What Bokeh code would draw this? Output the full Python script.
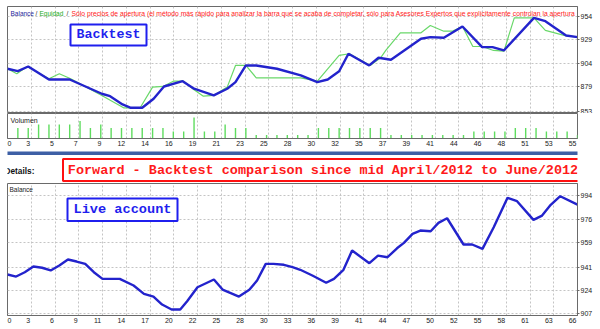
from bokeh.plotting import figure
from bokeh.layouts import column
from bokeh.models import Range1d, FixedTicker, Label, ColumnDataSource, BoxAnnotation
from bokeh.embed import file_html
from bokeh.resources import INLINE

# ---------------- data ----------------
# Backtest: balance line vertices (trade index, balance)
bt_balance_x = [0, 1, 2, 4, 6, 9.1, 9.9, 11.1, 11.9, 13, 14.1, 15.1, 16.9, 18, 19.9, 21.2, 22, 23, 24, 26,
                28.3, 29.9, 30.9, 32, 32.9, 34.9, 35.8, 37, 39.9, 40.8, 42.1, 43.9, 45.8, 46.8, 47.9,
                50.8, 51.9, 53.9, 55]
bt_balance_y = [898.3, 895.7, 900.7, 886.9, 886.9, 871.8, 869.2, 860.4, 856.9, 856.9, 866.5, 879.5, 885.1,
                877.1, 870.0, 877.1, 884.1, 901.8, 901.8, 898.3, 891.2, 884.1, 886.9, 895.7, 914.2, 901.8,
                909.9, 907.8, 930.1, 931.8, 931.1, 943.1, 921.2, 921.2, 917.7, 952.3, 948.7, 933.6, 931.8]
# Backtest: equity line vertices
bt_equity_x = [0, 0.9, 1.9, 4, 5, 6.1, 9.1, 11.2, 12.8, 14, 15, 16, 17, 18, 18.9, 19.9, 21.2, 22, 23, 24,
               28.3, 29.9, 32, 33, 35, 36, 36.5, 37.9, 39.9, 40.8, 42.1, 42.9, 43.9, 44.9, 45.8, 46.9,
               47.9, 48.9, 50.8, 51.9, 53.7, 55]
bt_equity_y = [898.3, 893.0, 900.7, 887.7, 893.0, 887.7, 870.0, 856.9, 856.9, 878.8, 879.5, 885.1, 885.1,
               876.0, 869.2, 870.0, 878.8, 901.8, 901.8, 888.7, 888.7, 885.1, 912.4, 914.2, 901.8, 909.9,
               917.7, 936.4, 936.4, 944.2, 938.1, 938.1, 943.1, 921.9, 921.9, 917.7, 916.9, 952.3, 952.3,
               938.9, 933.6, 931.8]
# Backtest: volume per bar
vol_bar = list(range(1, 56))
vol_val = [3, 3, 4, 4, 4, 4, 5, 3, 4, 3, 3, 3, 3, 3, 3, 2, 2, 6, 2, 2, 4, 3, 3, 1, 1, 1, 1, 1, 1,
           3, 3, 3, 3, 3, 3, 3, 1, 1, 1, 1, 1, 1, 1, 1, 2, 2, 2, 2, 3, 3, 3, 2, 2, 2, 1]
top_xtick_labels = ["0", "3", "5", "7", "9", "12", "14", "16", "19", "21", "23", "25", "28", "30", "32",
                    "35", "37", "39", "41", "44", "46", "48", "51", "53", "55"]
top_ytick_labels = [853, 879, 904, 929, 954]

# Live account balance vertices
live_x = [0, 1, 2, 3, 4, 5, 6, 7, 8, 9, 10, 11, 13, 14.6, 15.8, 16.9, 17.9, 19, 20, 20.8, 22, 23.9,
          24.9, 26.8, 28, 28.9, 29.9, 30.8, 32, 33, 33.9, 35.3, 36.9, 37.8, 38.9, 39.9, 41.9, 42.9,
          44, 45.1, 45.9, 46.9, 47.8, 49, 49.9, 50.9, 52.8, 53.8, 55, 56.3, 57.9, 59, 60.9, 61.9,
          62.9, 64, 66]
live_y = [935.6, 934.1, 937.3, 941.5, 940.6, 938.6, 942.3, 946.7, 945.2, 943.5, 937.3, 932.4, 932.4,
          927.5, 921.3, 919.3, 913.4, 909.7, 909.7, 915.9, 926.2, 931.9, 924.5, 919.3, 924.3, 931.2,
          943.5, 943.5, 942.8, 941.0, 939.1, 934.9, 929.5, 932.4, 939.1, 953.3, 944.0, 949.6, 948.4,
          955.0, 959.0, 965.7, 968.1, 967.6, 973.8, 977.2, 957.8, 957.8, 954.6, 970.6, 992.3, 989.8,
          976.0, 979.2, 987.1, 993.5, 987.3]
bot_xtick_labels = ["0", "3", "6", "9", "11", "14", "17", "20", "22", "25", "28", "30", "33", "36", "39",
                    "41", "44", "47", "50", "52", "55", "58", "61", "63", "66"]
bot_ytick_labels = [907, 924, 941, 959, 976, 994]

legend_parts = ["Balance", "/", "Equidad", "/",
                "Sólo precios de apertura (el método más rápido para analizar la barra que se acaba de "
                "completar, sólo para Asesores Expertos que explícitamente controlan la apertura"]
title_text = "Forward - Backtest comparison since mid April/2012 to June/2012"

# ---------------- style ----------------
FONT = "Liberation Sans"
GRID = "#c4c4c4"
FRAME = "#6a6a6a"
BAL = "#2323cc"
EQ = "#6ad86a"
VOL = "#5fdc5f"
FW = 570.0  # frame width in px


def base(p):
    p.outline_line_color = FRAME
    p.outline_line_width = 1
    p.background_fill_color = "white"
    p.border_fill_color = "white"
    for g in p.grid:
        g.grid_line_color = GRID
        g.grid_line_dash = "2 2"
        g.grid_line_width = 1


def style_axis(ax, tick_out=2):
    ax.axis_line_color = FRAME
    ax.major_tick_line_color = FRAME
    ax.major_tick_out = tick_out
    ax.major_tick_in = 0
    ax.minor_tick_out = 0
    ax.minor_tick_in = 0
    ax.major_label_text_font = FONT
    ax.major_label_text_font_size = "7px"
    ax.major_label_text_color = "#222222"
    ax.major_label_standoff = 1


def label_positions(grid_ticks, labels, ppu):
    # labels sit just left of their grid line (first one kept inside the frame)
    out = []
    for t, l in zip(grid_ticks, labels):
        w = len(l) * 3.9
        off = -(w / 2 + 1)
        if t * ppu + off - w / 2 < 0:
            off = w / 2
        out.append(t + off / ppu)
    return out


# ---------------- top: backtest price pane ----------------
n_top = len(top_xtick_labels)
top_ticks = [k * 55 / (n_top - 1) for k in range(n_top)]

f1 = figure(width=600, height=113, x_range=Range1d(0, 55), y_range=Range1d(851.9, 964.3),
            x_axis_location=None, y_axis_location="right", output_backend="svg", toolbar_location=None,
            min_border_left=7, min_border_right=23, min_border_top=6, min_border_bottom=1)
base(f1)
f1.xgrid.ticker = FixedTicker(ticks=top_ticks)
f1.yaxis.ticker = FixedTicker(ticks=top_ytick_labels)
f1.ygrid.ticker = FixedTicker(ticks=top_ytick_labels)
style_axis(f1.yaxis[0])
f1.line(bt_equity_x, bt_equity_y, line_color=EQ, line_width=1.2)
f1.line(bt_balance_x, bt_balance_y, line_color=BAL, line_width=2.4)


def px_x1(px):
    return (px - 7) * 55 / FW


y_leg = 964.3 - (13 - 6) * 1.0598
leg_cols = ["#1e1e9a", "#333333", "#22aa22", "#333333", "#ff2020"]
leg_px = [10, 35, 39, 66, 71]
leg_size = ["6.5px", "6.5px", "6.5px", "6.5px", "6.75px"]
for t, c, px, fs in zip(legend_parts, leg_cols, leg_px, leg_size):
    f1.add_layout(Label(x=px_x1(px), y=y_leg, text=t, text_color=c, text_font=FONT,
                        text_font_size=fs, text_baseline="middle"))

bx, by = px_x1(108), 964.3 - (34.5 - 6) * 1.0598
f1.rect(x=[bx], y=[by], width=76, height=21, width_units="screen", height_units="screen",
        fill_color="white", line_color="#1f1fee", line_width=2)
f1.add_layout(Label(x=bx, y=by, text="Backtest", text_align="center", text_baseline="middle",
                    text_font="Liberation Mono", text_font_style="bold", text_font_size="13.3px",
                    text_color="#1f1fee"))

# ---------------- volume pane ----------------
f2 = figure(width=600, height=37, x_range=Range1d(0, 55), y_range=Range1d(0, 7.14),
            x_axis_location="below", y_axis_location=None, output_backend="svg", toolbar_location=None,
            min_border_left=7, min_border_right=23, min_border_top=0, min_border_bottom=12)
base(f2)
f2.ygrid.visible = False
f2.xgrid.ticker = FixedTicker(ticks=top_ticks)
top_lab_pos = label_positions(top_ticks, top_xtick_labels, FW / 55)
f2.xaxis.ticker = FixedTicker(ticks=top_lab_pos)
f2.xaxis.major_label_overrides = {t: l for t, l in zip(top_lab_pos, top_xtick_labels)}
style_axis(f2.xaxis[0], tick_out=0)
f2.xaxis.major_label_standoff = 2
vsrc = ColumnDataSource(dict(x=vol_bar, v=vol_val, z=[0] * len(vol_bar)))
f2.segment(x0="x", y0="z", x1="x", y1="v", source=vsrc, line_color=VOL, line_width=1.4)
f2.add_layout(Label(x=px_x1(10), y=5.14, text="Volumen", text_font=FONT, text_font_size="7px",
                    text_color="#222222", text_baseline="middle"))

# ---------------- separator / title band (data units = page pixels) ----------------
f3 = figure(width=600, height=33, x_range=Range1d(7, 577), y_range=Range1d(183, 150),
            x_axis_location=None, y_axis_location=None, output_backend="svg", toolbar_location=None,
            min_border_left=7, min_border_right=23, min_border_top=0, min_border_bottom=0)
f3.outline_line_color = None
f3.grid.visible = False
f3.background_fill_color = "white"
f3.border_fill_color = "white"
f3.add_layout(BoxAnnotation(left=4, right=596, top=151, bottom=154.5, fill_color="#3d5fa5",
                            fill_alpha=1, line_alpha=0, level="underlay"))
f3.add_layout(BoxAnnotation(left=62.5, right=583, top=158.5, bottom=180.5, fill_color="white",
                            fill_alpha=1, line_color="#ff1010", line_alpha=1, line_width=2,
                            level="underlay"))
f3.add_layout(Label(x=4, y=170, text="Details:", text_font=FONT, text_font_style="bold",
                    text_font_size="8.3px", text_baseline="middle", text_color="#111111",
                    level="overlay"))
f3.add_layout(Label(x=322.5, y=169.6, text=title_text, text_align="center", text_baseline="middle",
                    text_font="Liberation Mono", text_font_style="bold", text_font_size="13.5px",
                    text_color="#ff1a1a", level="overlay"))

# ---------------- bottom: live account ----------------
n_bot = len(bot_xtick_labels)
bot_ticks = [k * 66 / (n_bot - 1) for k in range(n_bot)]
f4 = figure(width=600, height=146, x_range=Range1d(0, 66), y_range=Range1d(905.3, 1002.9),
            x_axis_location="below", y_axis_location="right", output_backend="svg", toolbar_location=None,
            min_border_left=7, min_border_right=23, min_border_top=0, min_border_bottom=14)
base(f4)
f4.xgrid.ticker = FixedTicker(ticks=bot_ticks)
bot_lab_pos = label_positions(bot_ticks, bot_xtick_labels, FW / 66)
f4.xaxis.ticker = FixedTicker(ticks=bot_lab_pos)
f4.xaxis.major_label_overrides = {t: l for t, l in zip(bot_lab_pos, bot_xtick_labels)}
f4.yaxis.ticker = FixedTicker(ticks=bot_ytick_labels)
f4.ygrid.ticker = FixedTicker(ticks=bot_ytick_labels)
style_axis(f4.xaxis[0], tick_out=0)
f4.xaxis.major_label_standoff = 2
style_axis(f4.yaxis[0])
f4.line(live_x, live_y, line_color=BAL, line_width=2.4)


def px_x4(px):
    return (px - 7) * 66 / FW


def px_y4(py):
    return 1002.9 - (py - 183) / 1.353


f4.add_layout(Label(x=px_x4(9), y=px_y4(189.3), text="Balance", text_font=FONT, text_font_size="6.5px",
                    text_color="#222222", text_baseline="middle"))
lx, ly = px_x4(122), px_y4(209.3)
f4.rect(x=[lx], y=[ly], width=110, height=22.5, width_units="screen", height_units="screen",
        fill_color="white", line_color="#1f1fee", line_width=2)
f4.add_layout(Label(x=lx, y=ly, text="Live account", text_align="center", text_baseline="middle",
                    text_font="Liberation Mono", text_font_style="bold", text_font_size="13.6px",
                    text_color="#1f1fee"))

layout = column(f1, f2, f3, f4, spacing=0)
open("out.html", "w").write(file_html(layout, INLINE, title="chart"))
